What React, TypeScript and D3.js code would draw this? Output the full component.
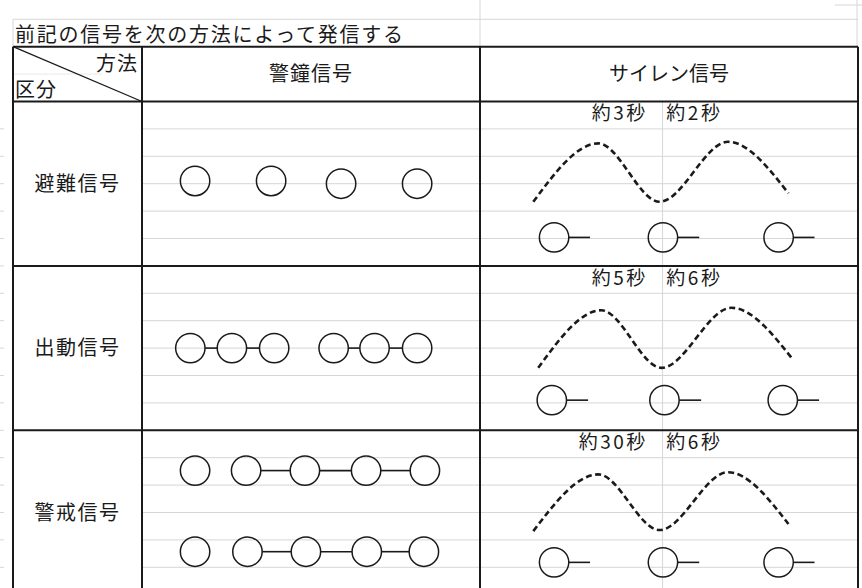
import React from "react";
import * as d3 from "d3";

// ---- data ----
const title = "前記の信号を次の方法によって発信する";
const methodHeader = "方法";
const categoryHeader = "区分";
const columns = ["警鐘信号", "サイレン信号"];
const categories = ["避難信号", "出動信号", "警戒信号"];

// bell signal: per category, lines of circles (x in % of column, y in grid-row units), grouped by connector
const bellSignals = [
  [{ y: [2.9, 2.9, 3.0, 3.0], groups: [[15.7], [38.2], [58.9], [81.4]] }],
  [{ y: [3.0], groups: [[14.3, 26.6, 39.1], [56.7, 68.8, 81.4]] }],
  [
    { y: [1.47], groups: [[15.7], [30.8, 48.2, 66.3, 83.7]] },
    { y: [4.43], groups: [[15.7], [31.2, 48.5, 66.5, 83.4]] },
  ],
];

// siren wave (x in % of column, y in grid-row units)
const sirenWaves = [
  [[14.1, 3.66], [31.3, 1.53], [47.5, 3.66], [65.6, 1.47], [81.6, 3.35]],
  [[15.4, 3.72], [32.1, 1.62], [48.0, 3.72], [66.5, 1.53], [82.9, 3.44]],
  [[14.1, 3.68], [31.3, 1.61], [47.5, 3.64], [65.6, 1.53], [81.6, 3.42]],
];
// siren pulses: circle x, tail end x (% of column), y row units
const sirenPulseX = [
  [19.6, 48.4, 79.0],
  [19.0, 48.8, 80.1],
  [19.6, 48.4, 79.0],
];
const sirenTailX = [
  [29.1, 58.0, 88.5],
  [28.6, 58.5, 89.7],
  [29.1, 58.0, 88.5],
];
const sirenPulseY = [4.96, 4.9, 4.82];
const durations = [
  ["約3秒", "約2秒"],
  ["約5秒", "約6秒"],
  ["約30秒", "約6秒"],
];

// ---- layout ----
const W = 862;
const H = 588;
const gridTop = 19.3;
const rowH = 27.4;
const xLeft = 13;
const xCol1 = 142;
const xCol2 = 480;
const xRight = 858;
const headerTop = gridTop + rowH;
const bodyTop = gridTop + 3 * rowH;
const catRows = 6;
const R = 14.7;
const FONT = "'Noto Sans CJK JP', 'Noto Sans', sans-serif";
const INK = "#1a1a1a";
const GRID = "#d6d6d6";

export default function App() {
  const bellX = d3.scaleLinear().domain([0, 100]).range([xCol1, xCol2]);
  const sirenX = d3.scaleLinear().domain([0, 100]).range([xCol2, xRight]);
  const rowScale = (i: number) =>
    d3.scaleLinear().domain([0, catRows]).range([bodyTop + i * catRows * rowH, bodyTop + (i + 1) * catRows * rowH]);

  const gridYs = d3.range(0, 22).map((k) => gridTop + k * rowH);
  const bodyGridYs = gridYs.filter((y) => y > bodyTop + 1);
  const rowBounds = d3.range(0, 4).map((i) => bodyTop + i * catRows * rowH);
  const midLine = sirenX(48.3);

  return (
    <div style={{ position: "fixed", left: 0, top: 0 }}>
      <svg width={W} height={H} style={{ display: "block", background: "#fff" }}>
        {/* spreadsheet gridlines */}
        <g stroke={GRID} strokeWidth={1}>
          {bodyGridYs.map((y, i) => (
            <g key={i}>
              <line x1={xCol1} x2={xRight} y1={y} y2={y} />
              <line x1={0} x2={4} y1={y} y2={y} />
            </g>
          ))}
          <line x1={xLeft} x2={xRight} y1={gridTop} y2={gridTop} />
          <line x1={xLeft} x2={xLeft} y1={gridTop} y2={headerTop} />
          <line x1={xCol2} x2={xCol2} y1={0} y2={headerTop} />
          <line x1={857} x2={857} y1={0} y2={headerTop} />
          <line x1={835} x2={862} y1={5} y2={5} />
          <line x1={xLeft} x2={xCol1 - 40} y1={gridTop + 2 * rowH} y2={gridTop + 2 * rowH} strokeOpacity={0.5} />
          <line x1={midLine} x2={midLine} y1={bodyTop} y2={H} />
        </g>

        {/* title */}
        <text x={15} y={42} fontFamily={FONT} fontSize={20} fill={INK} textLength={388} lengthAdjust="spacing">
          {title}
        </text>

        {/* table frame */}
        <g stroke={INK} strokeWidth={2} fill="none">
          <line x1={xLeft} x2={xRight} y1={headerTop} y2={headerTop} />
          {rowBounds.map((y, i) => (
            <line key={i} x1={xLeft} x2={xRight} y1={y} y2={y} />
          ))}
          <line x1={xLeft} x2={xLeft} y1={headerTop} y2={H + 10} />
          <line x1={xCol1} x2={xCol1} y1={headerTop} y2={H + 10} />
          <line x1={xCol2} x2={xCol2} y1={headerTop} y2={H + 10} />
          <line x1={xRight} x2={xRight} y1={headerTop} y2={H + 10} />
          <line x1={xLeft} x2={xCol1} y1={headerTop} y2={bodyTop} strokeWidth={1.3} />
        </g>

        {/* header texts */}
        <g fontFamily={FONT} fontSize={20} fill={INK}>
          <text x={138} y={71} textAnchor="end" letterSpacing={1}>{methodHeader}</text>
          <text x={15} y={97} letterSpacing={1}>{categoryHeader}</text>
          <text x={(xCol1 + xCol2) / 2} y={81} textAnchor="middle" letterSpacing={1}>{columns[0]}</text>
          <text x={(xCol2 + xRight) / 2} y={81} textAnchor="middle">{columns[1]}</text>
        </g>

        {categories.map((cat, i) => {
          const ys = rowScale(i);
          const line = d3
            .line<number[]>()
            .x((d) => sirenX(d[0]))
            .y((d) => ys(d[1]))
            .curve(d3.curveMonotoneX);
          return (
            <g key={cat}>
              <text
                x={(xLeft + xCol1) / 2}
                y={ys(3) + 7}
                textAnchor="middle"
                fontFamily={FONT}
                fontSize={20}
                fill={INK}
                letterSpacing={1.5}
              >
                {cat}
              </text>

              {/* bell signal */}
              {bellSignals[i].map((ln, li) => {
                let idx = 0;
                return (
                  <g key={li}>
                    {ln.groups.map((grp, gi) => {
                      const cy = ys(ln.y[Math.min(idx, ln.y.length - 1)]);
                      const items = grp.map((x) => {
                        const yy = ys(ln.y[Math.min(idx, ln.y.length - 1)]);
                        idx++;
                        return { cx: bellX(x), cy: yy };
                      });
                      return (
                        <g key={gi}>
                          {items.slice(1).map((c, k) => (
                            <line
                              key={"l" + k}
                              x1={items[k].cx + R}
                              x2={c.cx - R}
                              y1={cy}
                              y2={cy}
                              stroke={INK}
                              strokeWidth={1.6}
                            />
                          ))}
                          {items.map((c, k) => (
                            <circle key={k} cx={c.cx} cy={c.cy} r={R} fill="none" stroke={INK} strokeWidth={1.5} />
                          ))}
                        </g>
                      );
                    })}
                  </g>
                );
              })}

              {/* siren signal */}
              <text x={sirenX(44.4)} y={ys(0.45) + 6.5} textAnchor="end" fontFamily={FONT} fontSize={19} fill={INK} letterSpacing={2.5}>
                {durations[i][0]}
              </text>
              <text x={sirenX(49.3)} y={ys(0.45) + 6.5} textAnchor="start" fontFamily={FONT} fontSize={19} fill={INK} letterSpacing={2.5}>
                {durations[i][1]}
              </text>
              <path d={line(sirenWaves[i] as number[][]) || ""} fill="none" stroke={INK} strokeWidth={2.6} strokeDasharray="6,3.5" />
              {sirenPulseX[i].map((x, k) => (
                <g key={k}>
                  <line
                    x1={sirenX(x) + R}
                    x2={sirenX(sirenTailX[i][k])}
                    y1={ys(sirenPulseY[i])}
                    y2={ys(sirenPulseY[i])}
                    stroke={INK}
                    strokeWidth={1.6}
                  />
                  <circle cx={sirenX(x)} cy={ys(sirenPulseY[i])} r={R} fill="none" stroke={INK} strokeWidth={1.5} />
                </g>
              ))}
            </g>
          );
        })}
      </svg>
    </div>
  );
}
